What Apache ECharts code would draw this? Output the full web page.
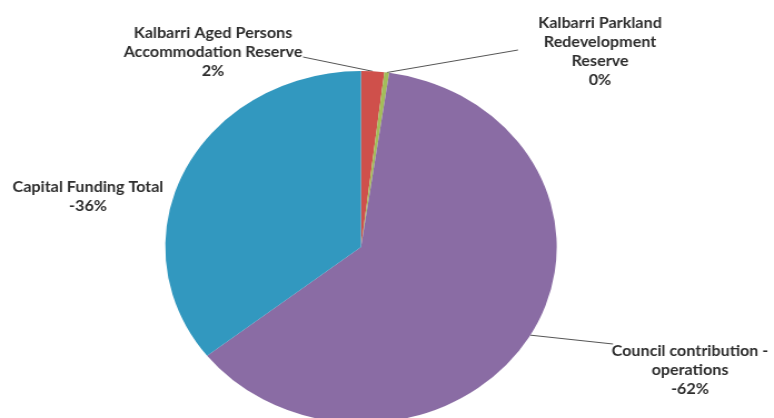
<!DOCTYPE html>
<html>
<head>
<meta charset="utf-8">
<script src="https://cdn.jsdelivr.net/npm/echarts@6/dist/echarts.min.js"></script>
<style>
  html, body { margin: 0; padding: 0; background: #fff; overflow: hidden; }
  #wrap { width: 774px; height: 418px; overflow: hidden; }
  #chart { height: 418px; transform-origin: 0 0; }
</style>
</head>
<body>
<div id="wrap"><div id="chart"></div></div>
<script>
// Reserve funding shares (percent of total; sign kept as reported)
const categories = [
  'Kalbarri Aged Persons\nAccommodation Reserve',
  'Kalbarri Parkland\nRedevelopment\nReserve',
  'Council contribution -\noperations',
  'Capital Funding Total'
];
const shares = [1.9, 0.4, -62.1, -35.6];
const colors = ['#cf504b', '#a3bd5a', '#8a6ca4', '#3298bf'];

// Horizontal stretch of the drawing (the pie is slightly wider than tall)
const SX = 1.112;
const W = 774 / SX;
const chartEl = document.getElementById('chart');
chartEl.style.width = W + 'px';
chartEl.style.transform = 'scaleX(' + SX + ')';

// Label block centres and leader-line ends, in screen pixels
const labelPos = [
  [213, 52],
  [600, 52],
  [690, 370],
  [88, 197]
];
const leaderEnd = [
  [303, 57],
  [518, 50],
  [613, 344],
  null
];

const chart = echarts.init(chartEl, null, { renderer: 'canvas' });
chart.setOption({
  backgroundColor: '#fff',
  animation: false,
  series: [{
    type: 'pie',
    center: [361 / SX, 247],
    radius: 176,
    startAngle: 90,
    clockwise: true,
    avoidLabelOverlap: false,
    itemStyle: { borderWidth: 0 },
    label: {
      show: true,
      position: 'outside',
      color: '#2e2e2e',
      fontFamily: 'Lato, "Open Sans", sans-serif',
      fontWeight: 'bold',
      fontSize: 14.5,
      lineHeight: 19,
      align: 'center',
      formatter: p => p.name + '\n' + Math.round(shares[p.dataIndex]) + '%'
    },
    labelLine: {
      show: true,
      length: 4,
      length2: 10,
      smooth: false,
      lineStyle: { color: '#555', width: 1 }
    },
    labelLayout: p => {
      const i = p.dataIndex;
      const out = {
        x: labelPos[i][0] / SX,
        y: labelPos[i][1],
        align: 'center',
        verticalAlign: 'middle'
      };
      const end = leaderEnd[i];
      if (end && p.labelLinePoints && p.labelLinePoints.length) {
        const start = p.labelLinePoints[0];
        out.labelLinePoints = [start.slice(), [end[0] / SX, end[1]]];
      }
      return out;
    },
    data: categories.map((name, i) => ({
      name: name,
      value: Math.abs(shares[i]),
      itemStyle: { color: colors[i] },
      labelLine: { show: i !== 3 }
    }))
  }]
});
</script>
</body>
</html>
